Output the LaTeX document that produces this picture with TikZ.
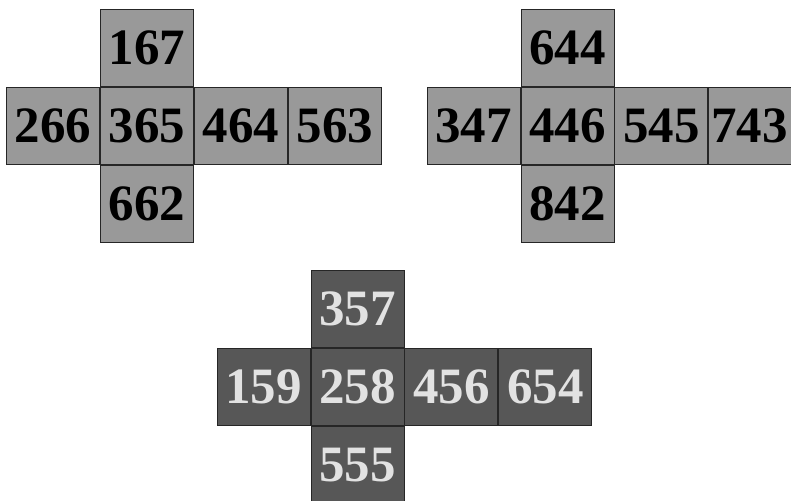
\documentclass[tikz,border=0pt]{standalone}
\usepackage{fontspec}
\setmainfont{Liberation Serif}
\usetikzlibrary{positioning}
\definecolor{lightface}{HTML}{999999}
\definecolor{darkface}{HTML}{575757}
\definecolor{lighttext}{HTML}{E2E2E2}
\tikzset{
    netcell/.style={draw=black!85, line width=0.9pt, minimum width=93pt, minimum height=77pt,
        inner sep=0pt, font=\fontsize{51}{51}\selectfont\bfseries},
    lightcell/.style={netcell, fill=lightface, text=black},
    darkcell/.style={netcell, fill=darkface, text=lighttext}
}

\begin{document}
\begin{tikzpicture}[x=1pt, y=1pt, node distance=0pt]
\useasboundingbox (0,0) rectangle (791,-500);
% first net
\node[lightcell] (c365) at (147,-126) {365};
\node[lightcell, above=of c365] (c167) {167};
\node[lightcell, below=of c365] (c662) {662};
\node[lightcell, left=of c365] (c266) {266};
\node[lightcell, right=of c365] (c464) {464};
\node[lightcell, right=of c464] (c563) {563};
% second net
\node[lightcell] (c446) at (567.5,-126) {446};
\node[lightcell, above=of c446] (c644) {644};
\node[lightcell, below=of c446] (c842) {842};
\node[lightcell, left=of c446] (c347) {347};
\node[lightcell, right=of c446] (c545) {545};
\node[lightcell, right=of c545] (c743) {743\hspace*{12pt}};
% third net
\node[darkcell] (c258) at (357.5,-387) {258};
\node[darkcell, above=of c258] (c357) {357};
\node[darkcell, below=of c258] (c555) {555};
\node[darkcell, left=of c258] (c159) {159};
\node[darkcell, right=of c258] (c456) {456};
\node[darkcell, right=of c456] (c654) {654};
\end{tikzpicture}
\end{document}
